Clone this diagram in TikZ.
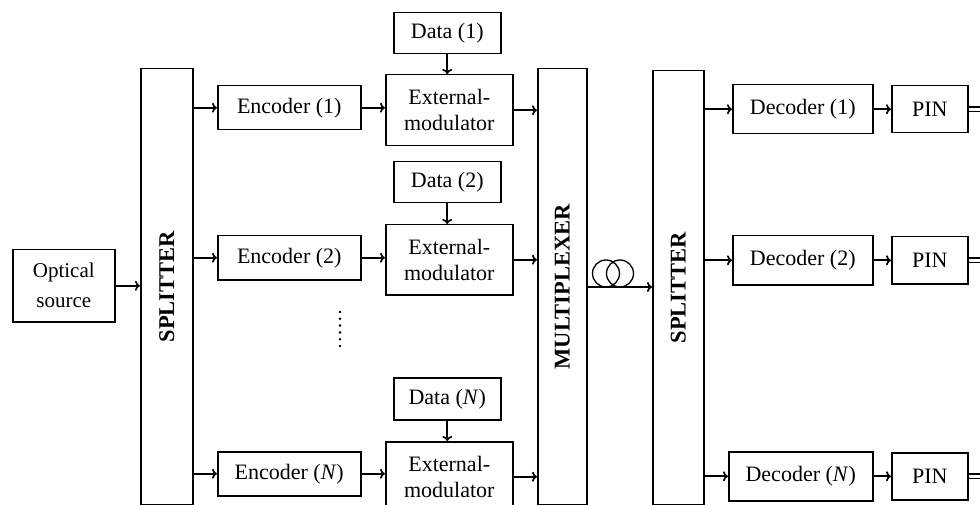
\documentclass[tikz,border=0pt]{standalone}
\usepackage{fontspec}
\setmainfont{Liberation Serif}
\usetikzlibrary{arrows.meta}
\begin{document}
\begin{tikzpicture}[x=1pt,y=-1pt,
  box/.style={draw, line width=1.5pt, inner sep=0pt, anchor=north west, align=center,
    font=\fontsize{22}{26}\selectfont},
  conn/.style={line width=1.7pt, -{To[length=5pt,width=10pt,line width=1.7pt]}},
  bar/.style={box, font=\fontsize{22.5}{26}\selectfont\bfseries},
  outline/.style={line width=1.4pt, double, double distance=3pt}
]
\useasboundingbox (0,0) rectangle (980,505);
\clip (0,0) rectangle (980,505);
% nodes
\node[box, minimum width=102pt, minimum height=72pt, font=\fontsize{21}{30}\selectfont] (src) at (12,249) {Optical\\source};
\node[bar, minimum width=52pt, minimum height=436pt] (split1) at (140,68) {\rotatebox{90}{SPLITTER}};

\node[box, minimum width=143pt, minimum height=44pt] (enc1) at (217,85) {Encoder (1)};
\node[box, minimum width=143pt, minimum height=44pt] (enc2) at (217,235) {Encoder (2)};
\node[box, minimum width=143pt, minimum height=44pt] (encN) at (217,451) {Encoder (\textit{N})};

\node[box, minimum width=107pt, minimum height=41pt] (data1) at (393,12) {Data (1)};
\node[box, minimum width=107pt, minimum height=41pt] (data2) at (393,161) {Data (2)};
\node[box, minimum width=107pt, minimum height=42pt] (dataN) at (393,377) {Data (\textit{N})};

\node[box, minimum width=127pt, minimum height=71pt] (mod1) at (385,74) {External-\\modulator};
\node[box, minimum width=127pt, minimum height=70pt] (mod2) at (385,224) {External-\\modulator};
\node[box, minimum width=127pt, minimum height=70pt] (modN) at (385,441) {External-\\modulator};

\node[bar, minimum width=49pt, minimum height=436pt] (mux) at (537,68) {\rotatebox{90}{MULTIPLEXER}};
\node[bar, minimum width=51pt, minimum height=434pt] (split2) at (652,70) {\rotatebox{90}{SPLITTER}};

\node[box, minimum width=140pt, minimum height=49pt] (dec1) at (732,84) {Decoder (1)};
\node[box, minimum width=140pt, minimum height=49pt] (dec2) at (732,235) {Decoder (2)};
\node[box, minimum width=144pt, minimum height=49pt] (decN) at (728,451) {Decoder (\textit{N})};

\node[box, minimum width=76pt, minimum height=47pt] (pin1) at (891,85) {PIN};
\node[box, minimum width=76pt, minimum height=47pt] (pin2) at (891,236) {PIN};
\node[box, minimum width=76pt, minimum height=47pt] (pinN) at (891,452) {PIN};

\coordinate (fib) at (600,287);
\coordinate (edge) at (990,0);

% connectors
\draw[conn] (src.east) -- (src.east -| split1.west);
\foreach \e in {enc1,enc2,encN}{
  \draw[conn] (split1.east |- \e.west) -- (\e.west);
}
\draw[conn] (enc1.east) -- (enc1.east -| mod1.west);
\draw[conn] (enc2.east) -- (enc2.east -| mod2.west);
\draw[conn] (encN.east) -- (encN.east -| modN.west);
\draw[conn] (data1.south) -- (data1.south |- mod1.north);
\draw[conn] (data2.south) -- (data2.south |- mod2.north);
\draw[conn] (dataN.south) -- (dataN.south |- modN.north);
\foreach \m in {mod1,mod2,modN}{
  \draw[conn] (\m.east) -- (\m.east -| mux.west);
}
\draw[conn] (mux.east |- fib) -- (split2.west |- fib);
\draw[line width=1.3pt] (606,273.5) circle[radius=13.5];
\draw[line width=1.3pt] (620,273.5) circle[radius=13.5];
\foreach \d/\p in {dec1/pin1,dec2/pin2,decN/pinN}{
  \draw[conn] (split2.east |- \d.west) -- (\d.west);
  \draw[conn] (\d.east |- \p.west) -- (\p.west);
  \draw[outline] (\p.east) -- (\p.east -| edge);
}
% dots
\foreach \i in {0,...,5}{
  \fill (340,{312+\i*6.8}) circle[radius=1.4];
}
\end{tikzpicture}
\end{document}
